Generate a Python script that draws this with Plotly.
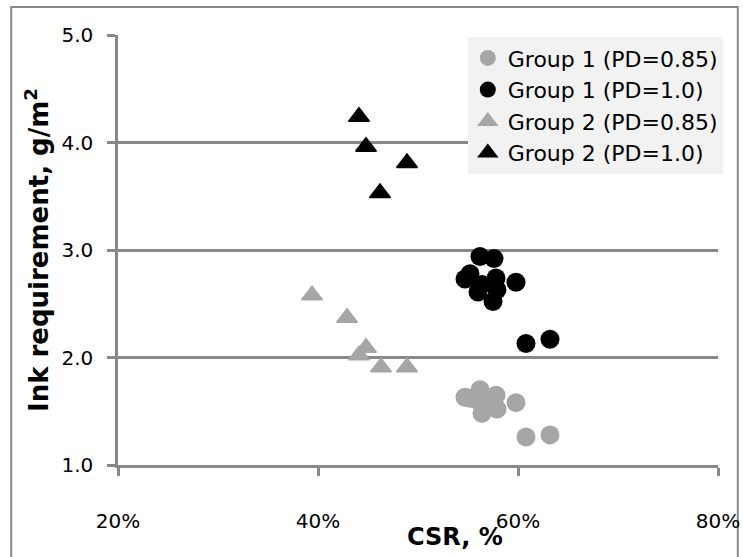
import plotly.graph_objects as go

# CSR (%) and ink requirement (g/m2) for each sample set
g1_csr = [54.7, 55.2, 56.0, 56.2, 56.4, 57.5, 57.6, 57.8, 57.9, 59.8, 60.8, 63.2]
g1_pd085 = [1.63, 1.62, 1.60, 1.70, 1.48, 1.55, 1.58, 1.65, 1.52, 1.58, 1.26, 1.28]
g1_pd100 = [2.73, 2.78, 2.61, 2.94, 2.68, 2.52, 2.92, 2.74, 2.63, 2.70, 2.13, 2.17]

g2_csr_pd085 = [39.4, 42.9, 44.8, 44.1, 46.3, 48.9]
g2_pd085 = [2.58, 2.37, 2.09, 2.02, 1.91, 1.91]
g2_csr_pd100 = [44.1, 44.8, 48.9, 46.2]
g2_pd100 = [4.24, 3.96, 3.81, 3.53]

series_names = ["Group 1 (PD=0.85)", "Group 1 (PD=1.0)",
                "Group 2 (PD=0.85)", "Group 2 (PD=1.0)"]
x_ticks = [20, 40, 60, 80]
x_tick_labels = [f"{v}%" for v in x_ticks]
y_ticks = [1.0, 2.0, 3.0, 4.0, 5.0]

GREY = "#A6A6A6"
BLACK = "#000000"
LINE = "#888888"
FONT = "DejaVu Sans, Verdana, sans-serif"

fig = go.Figure()
fig.add_trace(go.Scatter(x=g1_csr, y=g1_pd085, mode="markers", name=series_names[0],
                         marker=dict(symbol="circle", size=19, color=GREY)))
fig.add_trace(go.Scatter(x=g1_csr, y=g1_pd100, mode="markers", name=series_names[1],
                         marker=dict(symbol="circle", size=19, color=BLACK)))
fig.add_trace(go.Scatter(x=g2_csr_pd085, y=g2_pd085, mode="markers", name=series_names[2],
                         marker=dict(symbol="triangle-up", size=18, color=GREY,
                                     line=dict(width=1.5, color=GREY))))
fig.add_trace(go.Scatter(x=g2_csr_pd100, y=g2_pd100, mode="markers", name=series_names[3],
                         marker=dict(symbol="triangle-up", size=18, color=BLACK,
                                     line=dict(width=1.5, color=BLACK))))

fig.update_layout(
    width=743, height=557,
    margin=dict(l=118, r=25, t=35, b=92),
    paper_bgcolor="white", plot_bgcolor="white",
    font=dict(family=FONT, size=20, color="#000000"),
    showlegend=True,
    legend=dict(x=0.583, y=0.995, xanchor="left", yanchor="top",
                bgcolor="#F2F2F2", borderwidth=0,
                font=dict(family=FONT, size=22, color="#000000"),
                tracegroupgap=0),
    xaxis=dict(range=[20, 80], tickvals=x_ticks, ticktext=x_tick_labels,
               automargin=False,
               showgrid=False, zeroline=False,
               showline=True, linecolor=LINE, linewidth=2.5,
               ticks="outside", ticklen=8, tickwidth=2.5, tickcolor=LINE,
               ticklabelstandoff=28,
               tickfont=dict(family=FONT, size=20, color="#000000")),
    yaxis=dict(range=[1.0, 5.0], tickvals=y_ticks, tickformat=".1f",
               automargin=False,
               showgrid=True, gridcolor=LINE, gridwidth=2.5, zeroline=False,
               showline=True, linecolor=LINE, linewidth=2.5,
               ticks="outside", ticklen=8, tickwidth=2.5, tickcolor=LINE,
               ticklabelstandoff=10,
               tickfont=dict(family=FONT, size=20, color="#000000")),
    annotations=[
        dict(text="<b>CSR, %</b>", xref="paper", yref="paper",
             x=0.562, y=-0.168, xanchor="center", yanchor="middle",
             showarrow=False, font=dict(family=FONT, size=24, color="#000000")),
        dict(text="<b>Ink requirement, g/m<sup>2</sup></b>", xref="paper", yref="paper",
             x=-0.135, y=0.5, xanchor="center", yanchor="middle", textangle=-90,
             showarrow=False, font=dict(family=FONT, size=26, color="#000000")),
    ],
    shapes=[
        dict(type="rect", xref="paper", yref="paper",
             x0=-0.178, x1=1.033, y0=-0.35, y1=1.065,
             line=dict(color=LINE, width=2), fillcolor="rgba(0,0,0,0)", layer="below"),
    ],
)

fig.write_html("out.html")
